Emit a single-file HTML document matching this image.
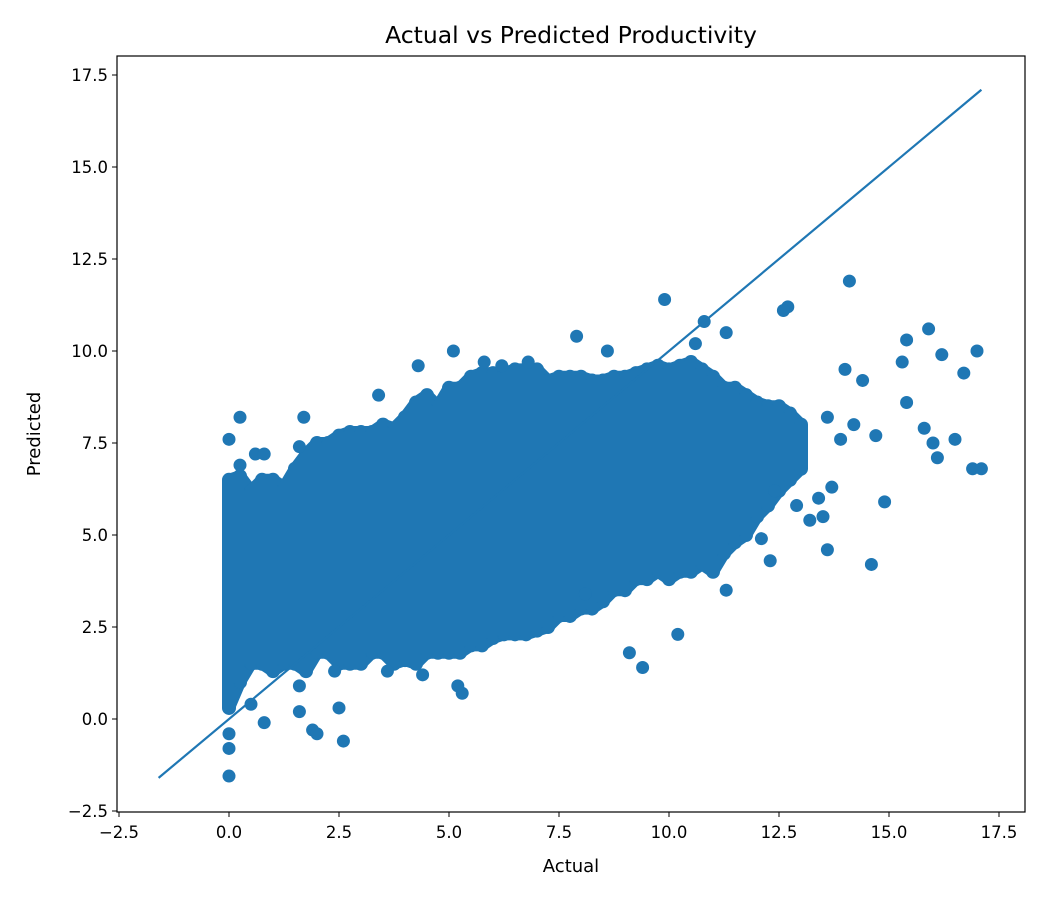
<!DOCTYPE html>
<html><head><meta charset="utf-8">
<style>
html,body{margin:0;padding:0;background:#fff;}
svg{display:block;font-family:"DejaVu Sans","Liberation Sans",sans-serif;}
</style></head>
<body>
<svg id="chart" width="1050" height="900" viewBox="0 0 1050 900" xmlns="http://www.w3.org/2000/svg">
<rect width="1050" height="900" fill="#fff"/>
<text x="571" y="43" font-size="23.5" text-anchor="middle" fill="#000">Actual vs Predicted Productivity</text>
<g id="marks"></g>
<g id="axes"></g>
<rect x="117" y="56" width="908" height="756" fill="none" stroke="#000" stroke-width="1.2"/>
<text x="571" y="872" font-size="18" text-anchor="middle">Actual</text>
<text transform="translate(40,434) rotate(-90)" font-size="18" text-anchor="middle">Predicted</text>
</svg>
<script>
// dense column bands: actual value, low predicted, high predicted
const bandX   = [0,0.25,0.5,0.75,1,1.25,1.5,1.75,2,2.25,2.5,2.75,3,3.25,3.5,3.75,4,4.25,4.5,4.75,5,5.25,5.5,5.75,6,6.25,6.5,6.75,7,7.25,7.5,7.75,8,8.25,8.5,8.75,9,9.25,9.5,9.75,10,10.25,10.5,10.75,11,11.25,11.5,11.75,12,12.25,12.5,12.75,13];
const bandLow = [0.3,1.0,1.5,1.5,1.3,1.5,1.5,1.3,1.8,1.8,1.5,1.5,1.5,1.8,1.8,1.5,1.6,1.5,1.8,1.8,1.8,1.8,2.0,2.0,2.2,2.3,2.3,2.3,2.4,2.5,2.8,2.8,3.0,3.0,3.2,3.5,3.5,3.8,3.8,4.0,3.8,4.0,4.0,4.2,4.0,4.5,4.8,5.0,5.5,5.8,6.2,6.5,6.8];
const bandHigh= [6.5,6.6,6.2,6.5,6.5,6.3,6.8,7.2,7.5,7.5,7.7,7.8,7.8,7.8,8.0,7.9,8.2,8.6,8.8,8.5,9.0,9.0,9.3,9.4,9.4,9.4,9.5,9.5,9.5,9.2,9.3,9.3,9.3,9.2,9.2,9.3,9.3,9.4,9.5,9.6,9.5,9.6,9.7,9.5,9.3,9.0,9.0,8.8,8.6,8.5,8.5,8.3,8.0];
// individual outlier points
const ptX = [0,0,0,0,0.25,0.8,0.5,1.6,1.9,2.0,2.5,2.6,1.7,0.6,1.6,3.4,4.3,5.1,5.3,5.8,6.2,6.8,7.9,8.6,9.1,9.4,10.2,10.6,11.3,12.3,12.1,13.6,14.6,14.9,15.4,15.8,16.1,16.5,16.9,17.1,16.7,15.9,15.3,16.2,17.0,16.0,15.4,14.1,14.0,13.9,13.4,13.2,13.7,13.6,12.7,12.6,9.9,10.8,8.1,5.2,4.4,3.6,2.4,1.6,0.25,0.8,11.3,14.4,14.2,14.7,13.5,12.9,12.4];
const ptY = [-1.55,-0.8,-0.4,7.6,8.2,-0.1,0.4,0.2,-0.3,-0.4,0.3,-0.6,8.2,7.2,7.4,8.8,9.6,10.0,0.7,9.7,9.6,9.7,10.4,10.0,1.8,1.4,2.3,10.2,10.5,4.3,4.9,4.6,4.2,5.9,10.3,7.9,7.1,7.6,6.8,6.8,9.4,10.6,9.7,9.9,10.0,7.5,8.6,11.9,9.5,7.6,6.0,5.4,6.3,8.2,11.2,11.1,11.4,10.8,3.4,0.9,1.2,1.3,1.3,0.9,6.9,7.2,3.5,9.2,8.0,7.7,5.5,5.8,6.2];
const lineX = [-1.6,17.1];

const NS="http://www.w3.org/2000/svg";
const xs=v=>229+44*v, ys=v=>719-36.8*v;
const C="#1f77b4";
const marks=document.getElementById('marks'), axes=document.getElementById('axes');
function mk(t,a,p){const e=document.createElementNS(NS,t);for(const k in a)e.setAttribute(k,a[k]);p.appendChild(e);return e;}

for(let i=0;i<bandX.length;i++){
  const b=mk('line',{x1:xs(bandX[i]),x2:xs(bandX[i]),y1:ys(bandLow[i]),y2:ys(bandHigh[i]),stroke:C,'stroke-width':14,'stroke-linecap':'round'},marks);
  
  
  if(i<bandX.length-1){
    const f=mk('polygon',{points:`${xs(bandX[i])},${ys(bandLow[i])} ${xs(bandX[i+1])},${ys(bandLow[i+1])} ${xs(bandX[i+1])},${ys(bandHigh[i+1])} ${xs(bandX[i])},${ys(bandHigh[i])}`,fill:C,stroke:C,'stroke-width':12,'stroke-linejoin':'round'},marks);
    
    
  }
}
for(let i=0;i<ptX.length;i++){
  const c=mk('circle',{cx:xs(ptX[i]),cy:ys(ptY[i]),r:6.5,fill:C},marks);
  
  
}
const l=mk('line',{x1:xs(lineX[0]),y1:ys(lineX[0]),x2:xs(lineX[1]),y2:ys(lineX[1]),stroke:C,'stroke-width':2.2},marks);



const ticks=[-2.5,0,2.5,5,7.5,10,12.5,15,17.5];
const fmt=t=>(t<0?'\u2212':'')+Math.abs(t).toFixed(1);
ticks.forEach(t=>{
  const x=xs(t);
  const tl=mk('line',{x1:x,x2:x,y1:812,y2:817,stroke:'#000','stroke-width':1},axes);
  
  
  const tx=mk('text',{x:x,y:838,'font-size':16.5,'text-anchor':'middle'},axes);
  tx.textContent=fmt(t);
  
  
  const y=ys(t);
  const yl=mk('line',{x1:112,x2:117,y1:y,y2:y,stroke:'#000','stroke-width':1},axes);
  
  
  const ty=mk('text',{x:108,y:y+6,'font-size':16.5,'text-anchor':'end'},axes);
  ty.textContent=fmt(t);
  
  
});
</script>
</body></html>
